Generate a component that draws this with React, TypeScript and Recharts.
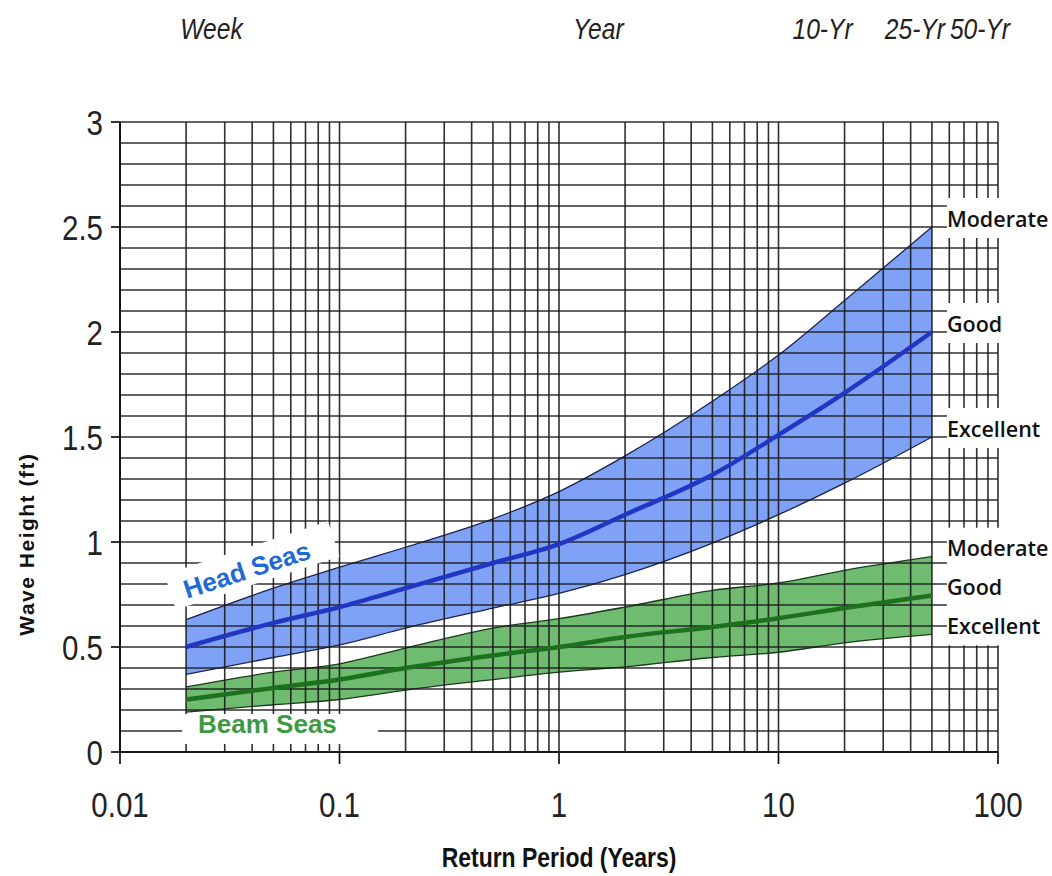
import React from "react";
import {
  ComposedChart,
  Area,
  Line,
  XAxis,
  YAxis,
  ReferenceLine,
  ReferenceDot,
} from "recharts";

// return period (years) and wave height (ft)
const periods = [0.02, 0.05, 0.1, 0.2, 0.5, 1, 2, 5, 10, 20, 50];
const headModerate = [0.63, 0.78, 0.88, 0.975, 1.11, 1.24, 1.41, 1.67, 1.89, 2.15, 2.5];
const headGood = [0.5, 0.615, 0.69, 0.78, 0.9, 0.99, 1.13, 1.32, 1.51, 1.71, 2.0];
const headExcellent = [0.37, 0.45, 0.51, 0.59, 0.685, 0.755, 0.845, 0.995, 1.13, 1.28, 1.5];
const beamModerate = [0.31, 0.38, 0.42, 0.495, 0.59, 0.635, 0.69, 0.77, 0.805, 0.865, 0.93];
const beamGood = [0.25, 0.305, 0.345, 0.4, 0.46, 0.5, 0.548, 0.595, 0.637, 0.686, 0.745];
const beamExcellent = [0.19, 0.225, 0.25, 0.295, 0.345, 0.38, 0.405, 0.45, 0.475, 0.52, 0.56];

const xTicks = [0.01, 0.1, 1, 10, 100];
const yTicks = [0, 0.5, 1, 1.5, 2, 2.5, 3];
const periodValues = [1 / 52, 1, 10, 25, 50];
const periodLabels = ["Week", "Year", "10-Yr", "25-Yr", "50-Yr"];
const ratingLabels = ["Moderate", "Good", "Excellent"];

const data = periods.map((p, i) => ({
  p,
  head: [headExcellent[i], headModerate[i]],
  headGood: headGood[i],
  beam: [beamExcellent[i], beamModerate[i]],
  beamGood: beamGood[i],
}));

const last = periods.length - 1;
const headEnds = [headModerate[last], headGood[last], headExcellent[last]];
const beamEnds = [beamModerate[last], beamGood[last], beamExcellent[last]];

// log paper grid
const xGrid = [0.01, 0.1, 1, 10]
  .flatMap((d) => [1, 2, 3, 4, 5, 6, 7, 8, 9].map((m) => +(d * m).toPrecision(3)))
  .concat([100]);
const yGrid = Array.from({ length: 31 }, (_, i) => +(i * 0.1).toFixed(1));

const SANS = "'Liberation Sans', Arial, sans-serif";
const NARROW = 0.82; // squeeze Liberation Sans to an Arial Narrow look
const periodNudge = [-2, 14, 14, 19, 18]; // text boxes were placed by hand

const NarrowTick = ({ x, y, payload, side }: any) => (
  <text
    transform={`translate(${x},${y}) scale(${NARROW},1)`}
    textAnchor={side === "left" ? "end" : "middle"}
    dy={side === "left" ? "0.355em" : "0.71em"}
    fontFamily={SANS}
    fontSize={36}
    fill="#222"
  >
    {String(payload.value)}
  </text>
);

const XTitle = ({ viewBox }: any) => (
  <text
    transform={`translate(${viewBox.x + viewBox.width / 2},${viewBox.y + viewBox.height - 9}) scale(${NARROW},1)`}
    textAnchor="middle"
    fontFamily={SANS}
    fontWeight={700}
    fontSize={28}
    fill="#111"
  >
    Return Period (Years)
  </text>
);

const YTitle = ({ viewBox }: any) => (
  <text
    transform={`translate(${viewBox.x + 34},${viewBox.y + viewBox.height * 0.67}) rotate(-90)`}
    textAnchor="middle"
    fontFamily={SANS}
    fontWeight={700}
    fontSize={21}
    letterSpacing={1.5}
    fill="#111"
  >
    Wave Height (ft)
  </text>
);

const PeriodLabel = ({ cx, cy, text, nudge }: any) => (
  <text
    transform={`translate(${cx + nudge},${cy - 83}) scale(${NARROW},1)`}
    fontFamily={SANS}
    fontStyle="italic"
    fontSize={30}
    fill="#222"
  >
    {text}
  </text>
);

const RatingBox = ({ cx, cy, text }: any) => (
  <g>
    <rect x={cx + 15} y={cy - 29} width={110} height={40} fill="#fff" />
    <text
      x={cx + 15}
      y={cy - 9}
      dominantBaseline="central"
      fontFamily="'Open Sans', sans-serif"
      fontWeight={600}
      fontSize={21.5}
      fill="#111"
    >
      {text}
    </text>
  </g>
);

const HeadSeasBox = ({ cx, cy }: any) => (
  <g transform={`translate(${cx + 1},${cy}) rotate(-18)`}>
    <rect x={-14} y={-30} width={172} height={37} fill="#fff" />
    <text x={0} y={0} fontFamily={SANS} fontWeight={700} fontSize={26} fill="#1f6ad4">
      Head Seas
    </text>
  </g>
);

const BeamSeasBox = ({ cx, cy }: any) => (
  <g>
    <rect x={cx - 4} y={cy - 17} width={196} height={30} fill="#fff" />
    <text x={cx + 12} y={cy + 2} fontFamily={SANS} fontWeight={700} fontSize={26} fill="#3d9a42">
      Beam Seas
    </text>
  </g>
);

export default function App() {
  return (
    <div style={{ width: 1052, height: 876, background: "#fff" }}>
      <style>{`body{margin:0}`}</style>
      <ComposedChart
        width={1052}
        height={876}
        data={data}
        margin={{ top: 122, right: 54, bottom: 0, left: 0 }}
      >
        <XAxis
          dataKey="p"
          type="number"
          scale="log"
          domain={[0.01, 100]}
          allowDataOverflow
          ticks={xTicks}
          tickSize={12}
          tickMargin={27}
          axisLine={{ stroke: "#000", strokeWidth: 1.6 }}
          tickLine={{ stroke: "#000", strokeWidth: 1.6 }}
          tick={<NarrowTick side="bottom" />}
          height={124}
          label={<XTitle />}
        />
        <YAxis
          type="number"
          domain={[0, 3]}
          ticks={yTicks}
          width={120}
          tickSize={9}
          tickMargin={8}
          axisLine={{ stroke: "#000", strokeWidth: 1.6 }}
          tickLine={{ stroke: "#000", strokeWidth: 1.6 }}
          tick={<NarrowTick side="left" />}
          label={<YTitle />}
        />

        <Area
          dataKey="head"
          type="monotone"
          fill="#7fa2f7"
          fillOpacity={1}
          stroke="#1c2450"
          strokeWidth={1.3}
          isAnimationActive={false}
          zIndex={100}
        />
        <Area
          dataKey="beam"
          type="monotone"
          fill="#6fbb70"
          fillOpacity={1}
          stroke="#1b3a1b"
          strokeWidth={1.3}
          isAnimationActive={false}
          zIndex={100}
        />

        {xGrid.map((v) => (
          <ReferenceLine key={"x" + v} x={v} stroke="#1a1a1a" strokeOpacity={0.9} strokeWidth={1.6} ifOverflow="visible" zIndex={300} />
        ))}
        {yGrid.map((v) => (
          <ReferenceLine key={"y" + v} y={v} stroke="#1a1a1a" strokeOpacity={0.9} strokeWidth={1.6} ifOverflow="visible" zIndex={300} />
        ))}

        <Line
          dataKey="headGood"
          type="monotone"
          stroke="#2236c4"
          strokeWidth={4.5}
          dot={false}
          isAnimationActive={false}
          zIndex={400}
        />
        <Line
          dataKey="beamGood"
          type="monotone"
          stroke="#1d701d"
          strokeWidth={4.5}
          dot={false}
          isAnimationActive={false}
          zIndex={400}
        />

        {periodValues.map((v, i) => (
          <ReferenceDot
            key={"pl" + i}
            x={v}
            y={3}
            r={0}
            ifOverflow="visible"
            zIndex={2000}
            shape={(props: any) => (
              <PeriodLabel {...props} text={periodLabels[i]} nudge={periodNudge[i]} />
            )}
          />
        ))}
        {headEnds.map((v, i) => (
          <ReferenceDot
            key={"hr" + i}
            x={periods[last]}
            y={v}
            r={0}
            ifOverflow="visible"
            zIndex={2000}
            shape={(props: any) => <RatingBox {...props} text={ratingLabels[i]} />}
          />
        ))}
        {beamEnds.map((v, i) => (
          <ReferenceDot
            key={"br" + i}
            x={periods[last]}
            y={v}
            r={0}
            ifOverflow="visible"
            zIndex={2000}
            shape={(props: any) => <RatingBox {...props} text={ratingLabels[i]} />}
          />
        ))}
        <ReferenceDot
          x={periods[0]}
          y={0.73}
          r={0}
          ifOverflow="visible"
          zIndex={2000}
          shape={(props: any) => <HeadSeasBox {...props} />}
        />
        <ReferenceDot
          x={periods[0]}
          y={0.1}
          r={0}
          ifOverflow="visible"
          zIndex={2000}
          shape={(props: any) => <BeamSeasBox {...props} />}
        />
      </ComposedChart>
    </div>
  );
}
